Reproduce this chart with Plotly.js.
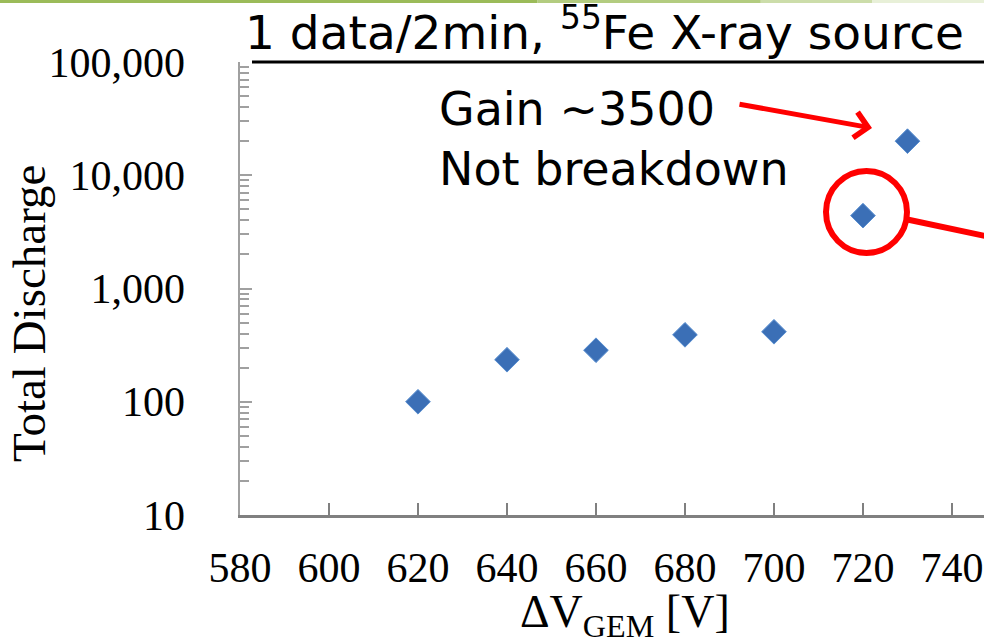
<!DOCTYPE html>
<html>
<head>
<meta charset="utf-8">
<script src="https://cdn.plot.ly/plotly-3.0.1.min.js"></script>
<style>html,body{margin:0;padding:0;background:#fff;overflow:hidden}#chart{width:984px;height:642px}</style>
</head>
<body>
<div id="chart"></div>
<script>
// Data
const voltage = [620, 640, 660, 680, 700, 720, 730];
const totalDischarge = [100, 235, 285, 390, 415, 4400, 20000];

const yTickVals = [10, 100, 1000, 10000, 100000];
const yTickText = ['10', '100', '1,000', '10,000', '100,000'];
const xTickVals = [580, 600, 620, 640, 660, 680, 700, 720, 740];

const titleText = '1 data/2min, <sup>55</sup>Fe X-ray source';
const noteText = 'Gain ~3500<br>Not breakdown';
const yTitleText = 'Total Discharge';
const xTitleText = 'ΔV<sub>GEM</sub> [V]';

// minor tick positions (2..9 in each decade)
const minorVals = [];
for (let d = 10; d < 100000; d *= 10) {
  for (let k = 2; k <= 9; k++) minorVals.push(k * d);
}

const serif = 'Liberation Serif, Times New Roman, serif';
const sans = 'DejaVu Sans, Verdana, sans-serif';
const red = '#FF0000';

const trace = {
  x: voltage,
  y: totalDischarge,
  type: 'scatter',
  mode: 'markers',
  marker: {symbol: 'diamond', size: 19, color: '#3B6FB6',
           line: {color: '#5A8FD0', width: 1}},
  hoverinfo: 'x+y'
};

const layout = {
  width: 984, height: 642,
  margin: {l: 240, r: 0, t: 62, b: 127, pad: 0},
  paper_bgcolor: '#ffffff', plot_bgcolor: '#ffffff',
  showlegend: false,
  xaxis: {
    range: [580, 747.2], tickmode: 'array', tickvals: xTickVals,
    ticks: 'inside', ticklen: 12, tickwidth: 2, tickcolor: '#808080',
    showline: true, linecolor: '#808080', linewidth: 2.5,
    showgrid: false, zeroline: false,
    tickfont: {family: serif, size: 42, color: '#000'},
    ticklabelstandoff: 14
  },
  yaxis: {
    type: 'log', range: [1, 5], tickmode: 'array', tickvals: yTickVals, ticktext: yTickText,
    ticks: 'inside', ticklen: 12, tickwidth: 2, tickcolor: '#A0A0A0',
    minor: {tickmode: 'array', tickvals: minorVals, ticks: 'inside', ticklen: 9, tickwidth: 2, tickcolor: '#A0A0A0'},
    showline: true, linecolor: '#A0A0A0', linewidth: 2.5,
    showgrid: false, zeroline: false,
    tickfont: {family: serif, size: 42, color: '#000'},
    ticklabelstandoff: 44
  },
  annotations: [
    {xref: 'paper', yref: 'paper', x: 3 / 744, y: 1.0, xanchor: 'left', yanchor: 'bottom',
     text: titleText, showarrow: false, font: {family: sans, size: 47, color: '#000'}},
    {xref: 'paper', yref: 'paper', x: -211 / 744, y: (515 - 313) / 453, xanchor: 'center', yanchor: 'middle',
     text: yTitleText, textangle: -90, showarrow: false, font: {family: serif, size: 47, color: '#000'}},
    {xref: 'paper', yref: 'paper', x: (625 - 240) / 744, y: (515 - 615) / 453, xanchor: 'center', yanchor: 'middle',
     text: xTitleText, showarrow: false, font: {family: serif, size: 46, color: '#000'}},
    {xref: 'paper', yref: 'paper', x: (437 - 240) / 744, y: (515 - 80) / 453, xanchor: 'left', yanchor: 'top',
     align: 'left', text: noteText, showarrow: false, font: {family: sans, size: 46, color: '#000'}},
    {xref: 'paper', yref: 'paper', x: (872 - 240) / 744, y: (515 - 128) / 453, text: '',
     showarrow: true, arrowhead: 4, arrowsize: 1, arrowwidth: 5, arrowcolor: red,
     ax: -134, ay: -24, axref: 'pixel', ayref: 'pixel'}
  ],
  shapes: [
    // title underline
    {type: 'line', xref: 'paper', yref: 'paper', x0: 12 / 744, x1: 1.01, y0: 1, y1: 1,
     line: {color: '#000', width: 3}},
    // slide top green bar
    {type: 'rect', xref: 'paper', yref: 'paper', x0: -240 / 744, x1: 0.4, y0: 1 + 59 / 453, y1: 1 + 62 / 453,
     fillcolor: '#9BBB59', line: {width: 0}},
    {type: 'rect', xref: 'paper', yref: 'paper', x0: 0.4, x1: 0.7, y0: 1 + 59 / 453, y1: 1 + 62 / 453,
     fillcolor: '#B3CC80', line: {width: 0}},
    {type: 'rect', xref: 'paper', yref: 'paper', x0: 0.7, x1: 0.85, y0: 1 + 59 / 453, y1: 1 + 62 / 453,
     fillcolor: '#CCDDAA', line: {width: 0}},
    {type: 'rect', xref: 'paper', yref: 'paper', x0: 0.85, x1: 1.0, y0: 1 + 59 / 453, y1: 1 + 62 / 453,
     fillcolor: '#E8F0D8', line: {width: 0}},
    // red circle
    {type: 'circle', xref: 'paper', yref: 'paper', x0: (826 - 240) / 744, x1: (907 - 240) / 744,
     y0: (515 - 253) / 453, y1: (515 - 171) / 453, line: {color: red, width: 6}},
    // red line leaving circle
    {type: 'line', xref: 'paper', yref: 'paper', x0: (905 - 240) / 744, y0: (515 - 219) / 453,
     x1: (990 - 240) / 744, y1: (515 - 237) / 453, line: {color: red, width: 6}}
  ]
};

Plotly.newPlot('chart', [trace], layout, {displayModeBar: false, staticPlot: true});
</script>
</body>
</html>
